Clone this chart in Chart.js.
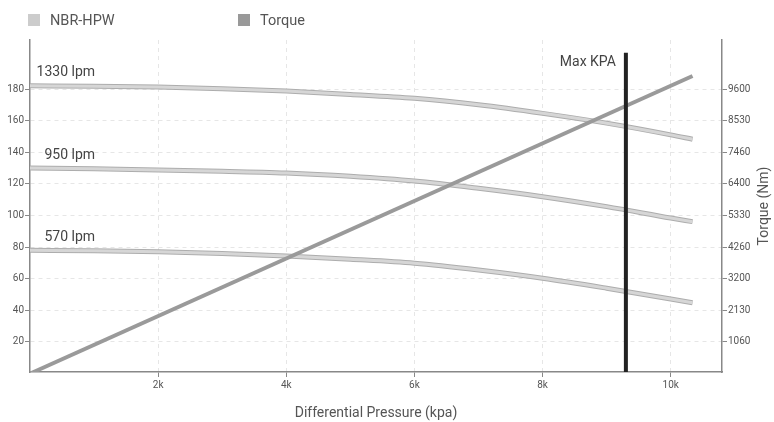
<!DOCTYPE html>
<html>
<head>
<meta charset="utf-8">
<script src="https://cdn.jsdelivr.net/npm/chart.js@4/dist/chart.umd.min.js"></script>
<style>
  body { margin: 0; background: #fff; }
  #wrap { position: relative; width: 774px; height: 422px; }
  .leg { position: absolute; top: 12px; font: 14.5px Roboto, sans-serif; color: #555; line-height: 18px; }
  .leg span { display: inline-block; width: 12px; height: 12px; vertical-align: -1px; margin-right: 10px; }
</style>
</head>
<body>
<div id="wrap">
  <canvas id="grafico" width="774" height="422"></canvas>
  <div class="leg" style="left:28px"><span style="background:#cccccc"></span>NBR-HPW</div>
  <div class="leg" style="left:238px"><span style="background:#999999"></span>Torque</div>
</div>
<script>
const kpa = [0, 1000, 2000, 3000, 4000, 5000, 6000, 7000, 8000, 9000, 10000, 10340];
const lpm1330 = [182, 181.8, 181.3, 180.2, 178.7, 176.6, 174.1, 170, 164.6, 158.4, 151, 148.2];
const lpm950 = [130, 129.5, 128.7, 128, 126.9, 124.8, 121.8, 117.2, 111.9, 105.6, 98.4, 96.1];
const lpm570 = [78, 77.7, 77, 76, 74.4, 72.3, 69.8, 65.5, 60.3, 54, 47.2, 44.8];
const curvasNomes = ["1330 lpm", "950 lpm", "570 lpm"];
const torqueKpa = [0, 10340];
const torqueNm = [0, 10040];
const maxKpa = 9300;
const maxKpaTopo = 203;
const ticksEsquerda = [20, 40, 60, 80, 100, 120, 140, 160, 180];
const ticksX = [2000, 4000, 6000, 8000, 10000];
const ticksDireita = ["1060", "2130", "3200", "4260", "5330", "6400", "7460", "8530", "9600"];

const fonte = 'Roboto, sans-serif';
const pontos = (xs, ys) => xs.map((x, i) => ({ x, y: ys[i] }));

// o eixo de torque acompanha o esquerdo: 180 <-> 9600
const fator = 9600 / 180;
const yMin = 1, yMax = 211;

const curvas = [lpm1330, lpm950, lpm570];
const datasets = [];
curvas.forEach(serie => {
  datasets.push({
    label: "NBR-HPW", data: pontos(kpa, serie), yAxisID: "y",
    borderColor: "#adadad", borderWidth: 5, pointRadius: 0,
    cubicInterpolationMode: "monotone", order: 10
  });
  datasets.push({
    label: "NBR-HPW", data: pontos(kpa, serie), yAxisID: "y",
    borderColor: "#d6d6d6", borderWidth: 3, pointRadius: 0,
    cubicInterpolationMode: "monotone", order: 9
  });
});
datasets.push({
  label: "Torque", data: pontos(torqueKpa, torqueNm), yAxisID: "y2",
  borderColor: "#9a9a9a", borderWidth: 4, pointRadius: 0, order: 5
});
datasets.push({
  label: "Max KPA", data: [{ x: maxKpa, y: 0 }, { x: maxKpa, y: maxKpaTopo }], yAxisID: "y",
  borderColor: "#222222", borderWidth: 4, pointRadius: 0, order: 1
});

const rotulos = {
  id: "rotulos",
  afterDatasetsDraw(chart) {
    const { ctx, scales: { x, y }, chartArea } = chart;
    ctx.save();
    ctx.font = "14px " + fonte;
    ctx.fillStyle = "#444";
    ctx.textBaseline = "middle";
    ctx.textAlign = "right";
    curvas.forEach((serie, i) => {
      ctx.fillText(curvasNomes[i], x.getPixelForValue(1000) + 1, y.getPixelForValue(serie[0]) - 13);
    });
    ctx.fillText("Max KPA", x.getPixelForValue(maxKpa) - 10, 62);
    // titulo do eixo direito, de baixo para cima
    ctx.fillStyle = "#555";
    ctx.textAlign = "center";
    ctx.translate(764, (chartArea.top + chartArea.bottom) / 2);
    ctx.rotate(-Math.PI / 2);
    ctx.fillText("Torque (Nm)", 0, 0);
    ctx.restore();
  }
};

const grade = { color: "#e6e6e6", tickColor: "#888", tickLength: 5 };

new Chart(document.getElementById("grafico"), {
  type: "line",
  data: { datasets },
  plugins: [rotulos],
  options: {
    responsive: false,
    animation: false,
    layout: { padding: { top: 40, left: 0, right: 0, bottom: 0 } },
    plugins: { legend: { display: false }, tooltip: { enabled: false } },
    scales: {
      x: {
        type: "linear", min: 0, max: 10800,
        afterBuildTicks: s => { s.ticks = ticksX.map(v => ({ value: v })); },
        afterFit: s => { s.height = 50; },
        ticks: { font: { family: fonte, size: 10 }, color: "#555", padding: 2, maxRotation: 0,
          callback: v => (v / 1000) + "k" },
        grid: { ...grade },
        border: { color: "#888", width: 1.5, dash: [4, 4] },
        title: { display: true, text: "Differential Pressure (kpa)", color: "#555",
          font: { family: fonte, size: 14 }, padding: 0 }
      },
      y: {
        position: "left", min: yMin, max: yMax,
        afterBuildTicks: s => { s.ticks = ticksEsquerda.map(v => ({ value: v })); },
        afterFit: s => { s.width = 30; },
        ticks: { font: { family: fonte, size: 10 }, color: "#555", padding: 1 },
        grid: { ...grade },
        border: { color: "#888", width: 1.5, dash: [4, 4] }
      },
      y2: {
        position: "right", min: yMin * fator, max: yMax * fator,
        afterBuildTicks: s => { s.ticks = ticksDireita.map((t, i) => ({ value: (i + 1) * 9600 / 9 })); },
        afterFit: s => { s.width = 52; },
        ticks: { font: { family: fonte, size: 10 }, color: "#555", padding: 1,
          callback: (v, i) => ticksDireita[i] },
        grid: { drawOnChartArea: false, tickColor: "#888", tickLength: 5 },
        border: { color: "#888", width: 1.5 }
      }
    }
  }
});
</script>
</body>
</html>
